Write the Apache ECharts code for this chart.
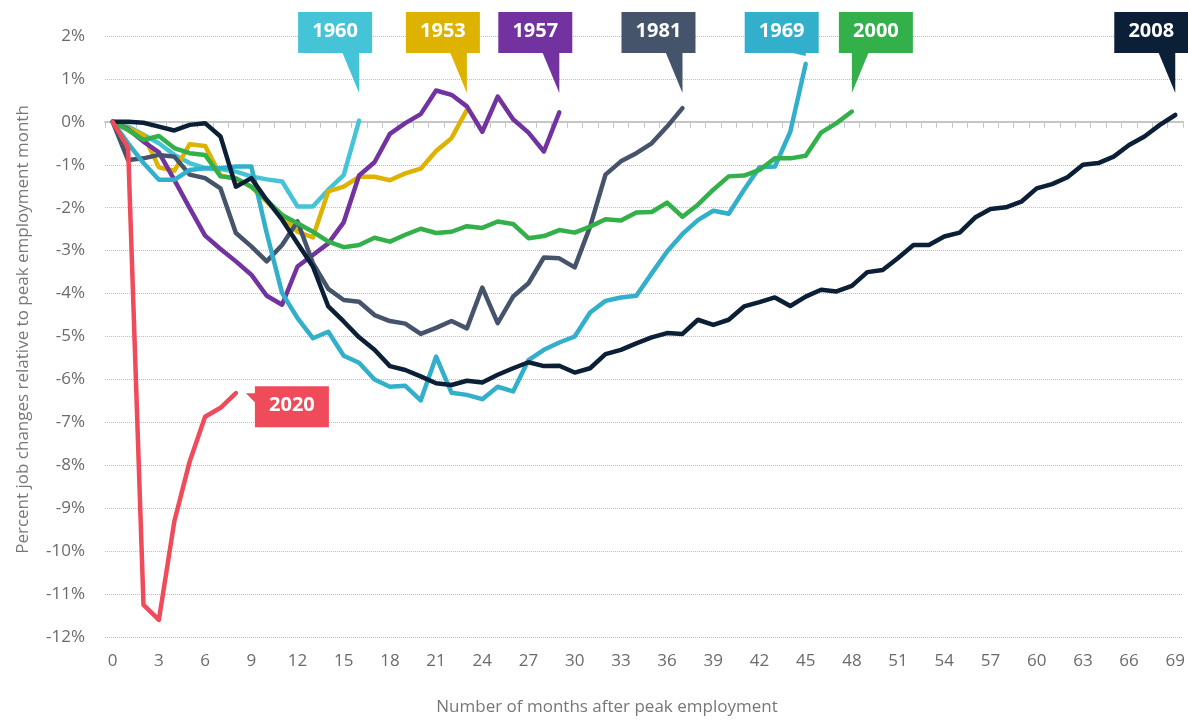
<!DOCTYPE html>
<html><head><meta charset="utf-8">
<script src="https://cdn.jsdelivr.net/npm/echarts@6/dist/echarts.min.js"></script>
<style>html,body{margin:0;padding:0;background:#fff}#c{width:1188px;height:721px}</style>
</head><body><div id="c"></div>
<script>
const months = Array.from({length:70},(_,i)=>String(i));
const yTicks = [2,1,0,-1,-2,-3,-4,-5,-6,-7,-8,-9,-10,-11,-12];

const s1953 = [0,-0.15,-0.3,-1.06,-1.14,-0.52,-0.56,-1.25,-1.33,-1.51,-1.86,-2.17,-2.56,-2.69,-1.62,-1.51,-1.28,-1.28,-1.36,-1.2,-1.09,-0.68,-0.38,0.28];
const s1957 = [0,-0.17,-0.46,-0.71,-1.35,-2.01,-2.65,-2.96,-3.25,-3.56,-4.05,-4.26,-3.37,-3.1,-2.83,-2.34,-1.25,-0.94,-0.28,-0.03,0.18,0.73,0.63,0.36,-0.23,0.59,0.06,-0.25,-0.69,0.22];
const s1960 = [0,-0.11,-0.3,-0.5,-0.77,-0.96,-1.08,-1.1,-1.16,-1.27,-1.34,-1.39,-1.97,-1.97,-1.58,-1.24,0.03];
const s1969 = [0,-0.5,-0.96,-1.35,-1.35,-1.12,-1.08,-1.08,-1.04,-1.04,-2.59,-3.99,-4.57,-5.04,-4.89,-5.45,-5.61,-6.0,-6.17,-6.15,-6.49,-5.47,-6.31,-6.36,-6.46,-6.17,-6.28,-5.55,-5.31,-5.14,-5.0,-4.44,-4.17,-4.09,-4.05,-3.53,-3.02,-2.61,-2.29,-2.07,-2.14,-1.58,-1.06,-1.04,-0.23,1.35];
const s1981 = [0,-0.89,-0.85,-0.77,-0.81,-1.23,-1.31,-1.55,-2.59,-2.9,-3.25,-2.87,-2.32,-3.29,-3.89,-4.15,-4.19,-4.5,-4.64,-4.7,-4.94,-4.8,-4.64,-4.81,-3.86,-4.69,-4.07,-3.76,-3.16,-3.18,-3.39,-2.44,-1.23,-0.92,-0.73,-0.5,-0.11,0.32];
const s2000 = [0,-0.19,-0.42,-0.33,-0.61,-0.73,-0.77,-1.27,-1.31,-1.51,-1.82,-2.17,-2.36,-2.56,-2.79,-2.92,-2.87,-2.7,-2.79,-2.63,-2.49,-2.59,-2.56,-2.43,-2.47,-2.32,-2.38,-2.71,-2.66,-2.52,-2.58,-2.44,-2.27,-2.3,-2.11,-2.1,-1.88,-2.21,-1.93,-1.58,-1.27,-1.25,-1.12,-0.85,-0.85,-0.79,-0.25,-0.03,0.24];
const s2008 = [0,0.0,-0.02,-0.11,-0.2,-0.07,-0.03,-0.34,-1.51,-1.31,-1.82,-2.28,-2.83,-3.37,-4.3,-4.65,-5.02,-5.31,-5.69,-5.78,-5.93,-6.09,-6.13,-6.03,-6.07,-5.89,-5.74,-5.6,-5.69,-5.68,-5.84,-5.74,-5.41,-5.31,-5.16,-5.02,-4.92,-4.94,-4.61,-4.73,-4.61,-4.3,-4.2,-4.09,-4.29,-4.07,-3.91,-3.95,-3.82,-3.5,-3.45,-3.17,-2.87,-2.87,-2.67,-2.58,-2.23,-2.03,-1.99,-1.86,-1.55,-1.45,-1.29,-1.0,-0.96,-0.81,-0.54,-0.34,-0.07,0.16];
const s2020 = [0,-0.6,-11.25,-11.6,-9.31,-7.91,-6.87,-6.66,-6.32];

const seriesDefs = [
  {name:'1960', data:s1960, color:'#45C4D8', callout:'right'},
  {name:'1953', data:s1953, color:'#DEB300', callout:'right'},
  {name:'1957', data:s1957, color:'#7232A0', callout:'right'},
  {name:'1981', data:s1981, color:'#45546B', callout:'right'},
  {name:'1969', data:s1969, color:'#32AFCA', callout:'right'},
  {name:'2000', data:s2000, color:'#34B04B', callout:'left'},
  {name:'2008', data:s2008, color:'#0B1F36', callout:'right'},
  {name:'2020', data:s2020, color:'#EF4B5A', callout:'side'}
];

const FONT = '"Open Sans", "Noto Sans", sans-serif';
const chart = echarts.init(document.getElementById('c'), null, {renderer:'canvas'});

chart.setOption({
  animation:false,
  backgroundColor:'#fff',
  grid:{left:105, right:5, top:36, bottom:84, containLabel:false},
  xAxis:[
    {type:'category', data:months, boundaryGap:true, position:'bottom',
     axisLine:{show:false, onZero:false}, axisTick:{show:false},
     axisLabel:{interval:2, color:'#6b6b6b', fontSize:17, fontFamily:FONT, margin:16},
     splitLine:{show:false},
     name:'Number of months after peak employment', nameLocation:'middle', nameGap:62,
     nameTextStyle:{color:'#777', fontSize:17, fontFamily:FONT, padding:[0,74,0,0]}},
    {type:'category', data:months, boundaryGap:true, position:'bottom',
     axisLine:{show:true, onZero:true, lineStyle:{color:'#c6c6c6', width:2}},
     axisTick:{show:true, interval:0, length:6, lineStyle:{color:'#c6c6c6', width:1}},
     axisLabel:{show:false}, splitLine:{show:false}}
  ],
  yAxis:{type:'value', min:-12, max:2, interval:1,
    axisLine:{show:false}, axisTick:{show:false},
    axisLabel:{color:'#6b6b6b', fontSize:17, fontFamily:FONT, margin:20, formatter:v=>v+'%'},
    splitLine:{show:true, lineStyle:{type:'dotted', color:'#bdbdbd', width:1}},
    name:'Percent job changes relative to peak employment month', nameLocation:'middle', nameGap:73,
    nameTextStyle:{color:'#777', fontSize:17, fontFamily:FONT, padding:[0,0,0,14]}},
  series: seriesDefs.map(d=>({
    name:d.name, type:'line', data:d.data, xAxisIndex:0, yAxisIndex:0,
    symbol:'none', showSymbol:false,
    lineStyle:{color:d.color, width:4.5, cap:'round', join:'round'},
    itemStyle:{color:d.color}
  }))
});

function buildCallouts(){
  const g = [];
  const W = 74, H = 41, TOP = 12;
  seriesDefs.forEach(d=>{
    const li = d.data.length-1;
    const p = chart.convertToPixel({xAxisIndex:0, yAxisIndex:0}, [li, d.data[li]]);
    const ex = p[0], ey = p[1];
    let bx, by, tail;
    if (d.callout === 'side') {
      bx = ex + 19; by = ey - 7;
      tail = [[ex+10, ey], [bx+1, ey], [bx+1, ey+10]];
    } else {
      const tipY = Math.min(93, ey - 8);
      by = TOP;
      const bb = TOP + H - 1;
      if (d.callout === 'left') {
        bx = ex - 13;
        tail = [[ex, bb], [ex+17, bb], [ex, tipY]];
      } else {
        bx = ex - 61;
        tail = [[ex-17, bb], [ex, bb], [ex, tipY]];
      }
    }
    g.push({type:'polygon', shape:{points:tail}, style:{fill:d.color}, z:100});
    g.push({type:'rect', shape:{x:bx, y:by, width:W, height:H}, style:{fill:d.color}, z:100});
    g.push({type:'text', x:bx+W/2, y:by+H/2-1, style:{text:d.name, align:'center', verticalAlign:'middle', fill:'#fff', font:'bold 20px ' + FONT}, z:101});
  });
  chart.setOption({graphic:g});
}
buildCallouts();
</script></body></html>
